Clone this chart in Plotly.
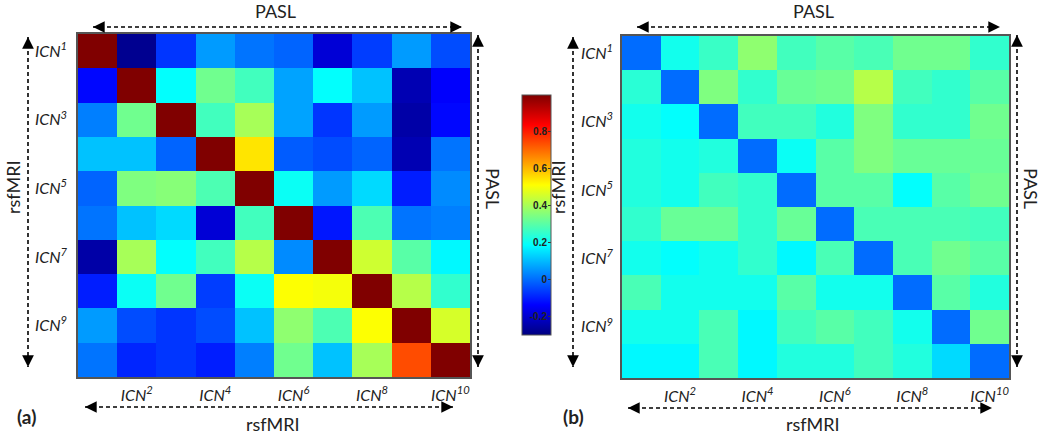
import plotly.graph_objects as go

labels = [f"ICN{i}" for i in range(1, 11)]
row_ticks = ["ICN1", "ICN3", "ICN5", "ICN7", "ICN9"]
col_ticks = ["ICN2", "ICN4", "ICN6", "ICN8", "ICN10"]

# (a) PASL vs rsfMRI cross-correlation (rows top -> bottom)
corr_a = [
    [1.00, -0.28, -0.07, 0.06, 0.01, -0.01, -0.19, -0.06, 0.06, -0.04],
    [-0.13, 1.00, 0.19, 0.33, 0.27, 0.07, 0.19, 0.11, -0.235, -0.14],
    [0.025, 0.33, 1.00, 0.27, 0.40, 0.07, -0.07, 0.06, -0.25, -0.13],
    [0.11, 0.11, -0.01, 1.00, 0.545, -0.02, -0.04, -0.01, -0.235, 0.01],
    [-0.01, 0.35, 0.36, 0.285, 1.00, 0.20, 0.06, 0.14, -0.10, 0.04],
    [0.01, 0.11, 0.14, -0.19, 0.27, 1.00, -0.11, 0.285, 0.01, 0.025],
    [-0.25, 0.40, 0.19, 0.27, 0.42, 0.04, 1.00, 0.45, 0.30, 0.18],
    [-0.10, 0.20, 0.33, -0.06, 0.20, 0.51, 0.50, 1.00, 0.42, 0.25],
    [0.06, -0.04, -0.07, -0.04, 0.11, 0.37, 0.285, 0.51, 1.00, 0.46],
    [0.01, -0.09, -0.07, -0.10, 0.025, 0.33, 0.11, 0.40, 0.74, 1.00],
]

# (b)
corr_b = [
    [0.00, 0.21, 0.26, 0.37, 0.27, 0.30, 0.28, 0.33, 0.33, 0.25],
    [0.24, 0.00, 0.35, 0.25, 0.32, 0.33, 0.42, 0.27, 0.25, 0.30],
    [0.21, 0.19, 0.00, 0.27, 0.27, 0.23, 0.35, 0.25, 0.25, 0.33],
    [0.23, 0.21, 0.23, 0.00, 0.20, 0.30, 0.35, 0.32, 0.32, 0.32],
    [0.23, 0.21, 0.27, 0.25, 0.00, 0.30, 0.30, 0.19, 0.30, 0.33],
    [0.25, 0.32, 0.32, 0.25, 0.32, 0.00, 0.28, 0.28, 0.28, 0.27],
    [0.21, 0.19, 0.21, 0.25, 0.18, 0.28, 0.00, 0.28, 0.33, 0.30],
    [0.28, 0.21, 0.21, 0.21, 0.30, 0.21, 0.21, 0.00, 0.30, 0.23],
    [0.21, 0.21, 0.28, 0.18, 0.27, 0.30, 0.27, 0.21, 0.00, 0.33],
    [0.18, 0.18, 0.28, 0.18, 0.23, 0.23, 0.27, 0.23, 0.14, 0.00],
]

cbar_ticks = [-0.2, 0, 0.2, 0.4, 0.6, 0.8]
cbar_text = ["-0.2", "0", "0.2", "0.4", "0.6", "0.8"]
zmin, zmax = -0.3, 1.0

jet = [
    [0.0, "rgb(0,0,128)"],
    [0.125, "rgb(0,0,255)"],
    [0.375, "rgb(0,255,255)"],
    [0.625, "rgb(255,255,0)"],
    [0.875, "rgb(255,0,0)"],
    [1.0, "rgb(128,0,0)"],
]

W, H = 1050, 435
FONT = "Lato"


def tick_html(lbl):
    return f"<i>ICN<sup>{lbl[3:]}</sup></i>"


fig = go.Figure()
fig.add_trace(go.Heatmap(
    z=corr_a, x=labels, y=labels, zmin=zmin, zmax=zmax, colorscale=jet,
    xaxis="x", yaxis="y",
    colorbar=dict(
        x=512 / W, xanchor="left", y=(H - 215) / H, yanchor="middle",
        len=260 / H, lenmode="fraction", thickness=29, thicknessmode="pixels",
        tickvals=cbar_ticks, ticktext=cbar_text,
        ticklabelposition="inside", ticklabeloverflow="allow",
        ticks="inside", ticklen=3,
        tickcolor="#333", tickfont=dict(size=10, color="#222", family="Arial", weight="bold"),
        outlinewidth=1, outlinecolor="#555",
    ),
))
fig.add_trace(go.Heatmap(
    z=corr_b, x=labels, y=labels, zmin=zmin, zmax=zmax, colorscale=jet,
    showscale=False, xaxis="x2", yaxis="y2",
))

axis_common = dict(showline=True, mirror=True, linecolor="#555", linewidth=1.5,
                   showgrid=False, zeroline=False, ticks="",
                   tickfont=dict(family=FONT, size=16, color="#222"))

fig.update_layout(
    width=W, height=H,
    margin=dict(l=0, r=0, t=0, b=0),
    paper_bgcolor="white", plot_bgcolor="white",
    xaxis=dict(domain=[78 / W, 470 / W], anchor="y",
               tickvals=col_ticks, ticktext=[tick_html(c) for c in col_ticks],
               ticklabelstandoff=3, **axis_common),
    yaxis=dict(domain=[(H - 377) / H, (H - 34) / H], anchor="x", autorange="reversed",
               tickvals=row_ticks, ticktext=[tick_html(c) for c in row_ticks],
               ticklabelstandoff=6, **axis_common),
    xaxis2=dict(domain=[622 / W, 1009 / W], anchor="y2",
                tickvals=col_ticks, ticktext=[tick_html(c) for c in col_ticks],
                ticklabelstandoff=3, **axis_common),
    yaxis2=dict(domain=[(H - 378) / H, (H - 36) / H], anchor="x2", autorange="reversed",
                tickvals=row_ticks, ticktext=[tick_html(c) for c in row_ticks],
                ticklabelstandoff=4, **axis_common),
    showlegend=False,
)


def px(xp):
    return xp / W


def py(yp):
    return (H - yp) / H


def dashed_arrow(x0, y0, x1, y1):
    # dashed shaft
    fig.add_shape(type="line", xref="paper", yref="paper",
                  x0=px(x0), y0=py(y0), x1=px(x1), y1=py(y1),
                  line=dict(color="black", width=1.6, dash="4px,3px"))
    # arrow heads at both ends
    dx, dy = x1 - x0, y1 - y0
    L = (dx ** 2 + dy ** 2) ** 0.5
    ux, uy = dx / L, dy / L
    for (hx, hy, sx, sy) in [(x1, y1, -ux, -uy), (x0, y0, ux, uy)]:
        fig.add_annotation(xref="paper", yref="paper", x=px(hx), y=py(hy),
                           ax=sx * 10, ay=sy * 10, axref="pixel", ayref="pixel",
                           text="", showarrow=True, arrowhead=2, arrowsize=1.3,
                           arrowwidth=1.8, arrowcolor="black")


def label(text, xp, yp, angle=0, size=18, bold=False):
    fig.add_annotation(xref="paper", yref="paper", x=px(xp), y=py(yp),
                       text=f"<b>{text}</b>" if bold else text, showarrow=False,
                       textangle=angle, xanchor="center", yanchor="middle",
                       font=dict(family=FONT, size=size, color="#222"))


# panel (a)
dashed_arrow(93, 27, 462, 27)
label("PASL", 275, 11)
dashed_arrow(28, 37, 28, 367)
label("rsfMRI", 13, 187, angle=-90)
dashed_arrow(478, 35, 478, 367)
label("PASL", 493, 188, angle=90)
dashed_arrow(85, 407, 453, 407)
label("rsfMRI", 273, 424)
label("(a)", 26, 416, bold=True, size=19)

# panel (b)
dashed_arrow(637, 27, 1000, 27)
label("PASL", 813, 11)
dashed_arrow(573, 37, 573, 367)
label("rsfMRI", 558, 187, angle=-90)
dashed_arrow(1017, 35, 1017, 367)
label("PASL", 1031, 188, angle=90)
dashed_arrow(628, 408, 992, 408)
label("rsfMRI", 813, 424)
label("(b)", 573, 416, bold=True, size=19)

fig.write_html("out.html", config={"displayModeBar": False},
               post_script="document.body.style.margin='0';document.body.style.overflow='hidden';")
